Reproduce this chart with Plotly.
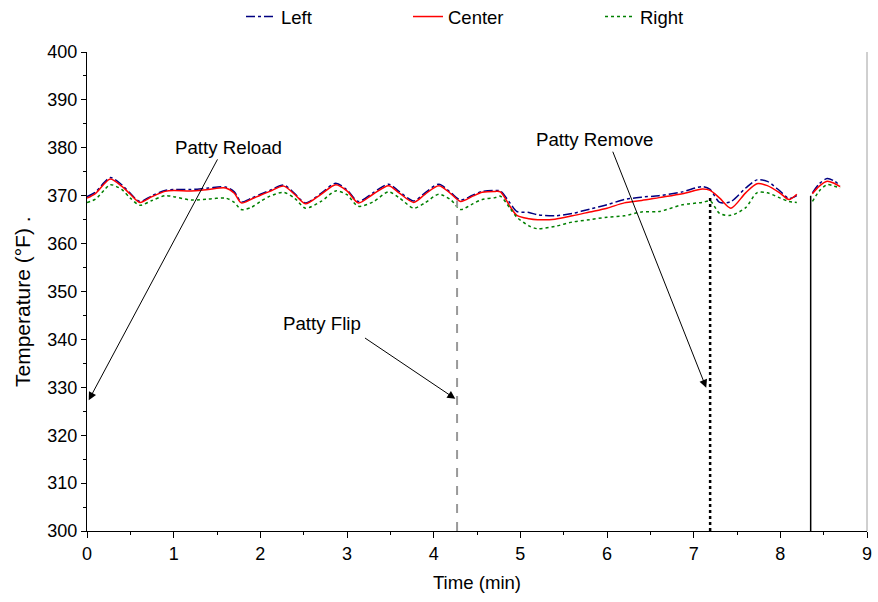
import plotly.graph_objects as go

# ---- data ----
time_min = [0, 0.1, 0.2, 0.27, 0.4, 0.5, 0.61, 0.75, 0.9, 1.0, 1.2, 1.4, 1.6, 1.7, 1.78, 1.9,
            2.0, 2.11, 2.27, 2.4, 2.52, 2.7, 2.87, 3.0, 3.13, 3.3, 3.48, 3.6, 3.77, 3.9, 4.06,
            4.2, 4.31, 4.45, 4.56, 4.71, 4.77, 4.88, 4.96, 5.1, 5.2, 5.4, 5.6, 5.8, 6.0, 6.2,
            6.4, 6.6, 6.87, 7.1, 7.19, 7.3, 7.43, 7.6, 7.73, 7.85, 8.0, 8.1, 8.19, None,
            8.37, 8.45, 8.54, 8.62, 8.69]

left_temp = [369.8, 370.8, 372.8, 373.8, 372.3, 370.5, 368.8, 370.0, 371.1, 371.3, 371.3, 371.6,
             371.8, 370.8, 368.7, 369.5, 370.3, 371.1, 372.2, 370.4, 368.5, 370.5, 372.6, 371.2,
             368.8, 370.6, 372.4, 370.9, 368.9, 370.6, 372.4, 370.6, 369.1, 370.1, 370.9, 371.1,
             371.0, 368.5, 366.7, 366.5, 366.0, 365.8, 366.3, 367.2, 368.1, 369.2, 369.7, 370.0,
             370.8, 371.9, 371.3, 368.6, 368.8, 371.6, 373.3, 373.0, 370.9, 369.4, 370.0, None,
             370.6, 372.5, 373.6, 373.1, 372.1]

center_temp = [369.5, 370.5, 372.5, 373.5, 372.0, 370.3, 368.6, 369.8, 370.9, 371.1, 371.0, 371.3,
               371.6, 370.5, 368.5, 369.3, 370.1, 370.9, 372.0, 370.2, 368.3, 370.3, 372.3, 371.0,
               368.5, 370.3, 372.1, 370.6, 368.6, 370.3, 372.1, 370.4, 368.8, 369.9, 370.7, 370.9,
               370.8, 367.8, 365.9, 365.2, 365.0, 365.1, 365.8, 366.6, 367.4, 368.5, 369.0, 369.6,
               370.4, 371.4, 371.1, 369.5, 367.4, 370.6, 372.5, 372.1, 370.5, 369.2, 370.3, None,
               370.4, 372.0, 373.0, 372.6, 371.9]

right_temp = [368.6, 369.3, 371.2, 372.3, 371.3, 369.5, 368.0, 369.0, 370.0, 369.8, 369.1, 369.3,
              369.5, 368.6, 367.1, 367.6, 368.8, 369.9, 370.7, 369.4, 367.4, 368.8, 371.0, 370.2,
              367.8, 368.7, 370.8, 369.6, 367.4, 368.5, 370.3, 369.1, 367.1, 368.3, 369.2, 369.6,
              369.9, 367.4, 365.5, 363.7, 363.1, 363.6, 364.5, 365.0, 365.5, 365.8, 366.6, 366.7,
              368.1, 368.6, 368.9, 366.3, 365.9, 367.5, 370.6, 370.6, 369.5, 368.8, 368.6, None,
              368.8, 371.0, 372.3, 372.0, 371.6]

series_names = ["Left", "Center", "Right"]

# event markers (vertical lines)
event_times = [4.27, 7.19, 8.35]
event_tops = [369.0, 370.0, 370.0]

# annotation labels: text position, arrow tail, arrow tip
label_texts = ["Patty Reload", "Patty Flip", "Patty Remove"]
label_pos = [(1.63, 380.0), (2.715, 343.4), (5.855, 381.8)]
arrow_tail = [(1.515, 377.9), (3.19, 340.5), (6.06, 379.5)]
arrow_tip = [(0.02, 327.3), (4.25, 327.6), (7.145, 329.9)]

x_ticks = list(range(0, 10))
y_ticks = list(range(300, 401, 10))

FONT = "Liberation Sans, Arial, sans-serif"
FS = 18
W, H = 878, 602

fig = go.Figure()
styles = [dict(color="#000080", dash="dashdot", width=1.5, shape="spline", smoothing=0.8),
          dict(color="#ff0000", dash="solid", width=1.5, shape="spline", smoothing=0.8),
          dict(color="#008000", dash="dot", width=1.5, shape="spline", smoothing=0.8)]
legend_ids = ["legend", "legend2", "legend3"]
for name, ys, st, lg in zip(series_names, [left_temp, center_temp, right_temp], styles, legend_ids):
    fig.add_trace(go.Scatter(x=time_min, y=ys, mode="lines", name=name, line=st,
                             connectgaps=False, legend=lg))

vstyles = [dict(color="#999999", width=2, dash="dash"),
           dict(color="black", width=2.5, dash="dot"),
           dict(color="black", width=1.5, dash="solid")]
for t, top, st in zip(event_times, event_tops, vstyles):
    fig.add_shape(type="line", xref="x", yref="y", x0=t, x1=t, y0=300, y1=top, line=st)

for txt, pos, tail, tip in zip(label_texts, label_pos, arrow_tail, arrow_tip):
    fig.add_annotation(x=pos[0], y=pos[1], text=txt, showarrow=False,
                       font=dict(family=FONT, size=18.7, color="black"))
    fig.add_annotation(x=tip[0], y=tip[1], ax=tail[0], ay=tail[1], axref="x", ayref="y",
                       xref="x", yref="y", text="", showarrow=True, arrowhead=2,
                       arrowsize=1.6, arrowwidth=1, arrowcolor="black", standoff=0)

# y-axis title (placed as rotated text)
fig.add_annotation(xref="paper", yref="paper", x=(22 - 87) / 780, y=(531 - 302) / 479,
                   text="Temperature (°F) .", textangle=-90, showarrow=False,
                   xanchor="center", yanchor="middle", font=dict(family=FONT, size=21))

# right frame border
fig.add_shape(type="line", xref="paper", yref="paper", x0=1, x1=1, y0=0, y1=1,
              line=dict(color="#a0a0a0", width=1))

leg_common = dict(orientation="h", xref="container", yref="container", y=1 - 17 / H,
                  yanchor="middle", font=dict(size=18.5), bgcolor="rgba(0,0,0,0)")
fig.update_layout(
    width=W, height=H,
    margin=dict(l=87, r=11, t=52, b=71),
    paper_bgcolor="white", plot_bgcolor="white",
    font=dict(family=FONT, size=FS, color="black"),
    showlegend=True,
    legend=dict(x=241 / W, **leg_common),
    legend2=dict(x=408 / W, **leg_common),
    legend3=dict(x=600 / W, **leg_common),
)
fig.update_xaxes(range=[0, 9], tickvals=x_ticks, ticks="outside", ticklen=6, tickcolor="black",
                 showline=True, linecolor="black", linewidth=1, showgrid=False, zeroline=False,
                 automargin=False,
                 minor=dict(dtick=0.5, ticks="outside", ticklen=3, tickcolor="black"),
                 title=dict(text="Time (min)", font=dict(size=18.6), standoff=13),
                 tickfont=dict(size=FS))
fig.update_yaxes(range=[300, 400], tickvals=y_ticks, ticks="outside", ticklen=5, tickcolor="black",
                 showline=True, linecolor="black", linewidth=1, showgrid=False, zeroline=False,
                 automargin=False,
                 minor=dict(dtick=5, ticks="outside", ticklen=3, tickcolor="black"),
                 tickfont=dict(size=FS))

fig.write_html("out.html", config={"displayModeBar": False},
               post_script="document.body.style.margin='0';document.body.style.overflow='hidden';")
